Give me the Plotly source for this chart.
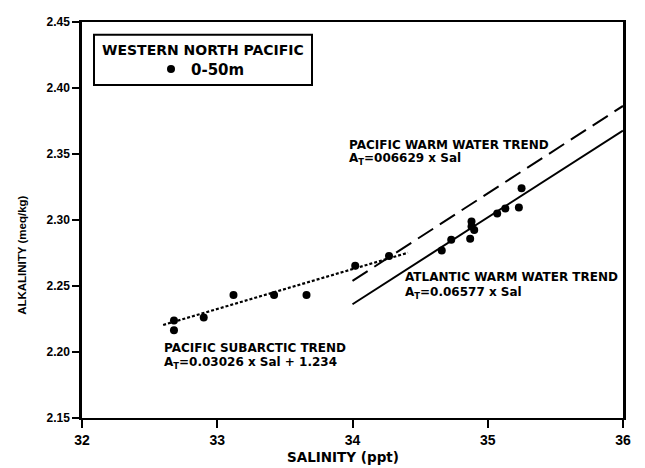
import plotly.graph_objects as go

# ---- data ----
salinity = [32.68, 32.68, 32.90, 33.12, 33.42, 33.66, 34.02, 34.27, 34.66, 34.73,
            34.87, 34.88, 34.88, 34.90, 35.07, 35.13, 35.23, 35.25]
alkalinity = [2.2239, 2.2164, 2.2261, 2.2432, 2.2432, 2.2432, 2.2653, 2.2727, 2.2769, 2.2851,
              2.2858, 2.2988, 2.2951, 2.2925, 2.3049, 2.3087, 2.3094, 2.3241]

subarctic_x = [32.60, 34.41]
subarctic_y = [2.2205, 2.2752]
pacific_warm_x = [34.0, 36.0]
pacific_warm_y = [2.2539, 2.3864]
atlantic_x = [34.0, 36.0]
atlantic_y = [2.2362, 2.3677]

x_ticks = [32, 33, 34, 35, 36]
y_ticks = [2.15, 2.20, 2.25, 2.30, 2.35, 2.40, 2.45]
y_tick_text = ["2.15", "2.20", "2.25", "2.30", "2.35", "2.40", "2.45"]

# page body has an 8px margin; size figure so the plot lands where the reference has it
OFF = 8
W, H = 637, 460
L, R, T, B = 74, 22, 7, 50
PW, PH = W - L - R, H - T - B


def px(xs):
    return (xs - OFF - L) / PW


def py(ys):
    return (OFF + H - B - ys) / PH


BOLD = "DejaVu Sans"
ARIAL = "Liberation Sans"

fig = go.Figure()
fig.add_trace(go.Scatter(x=subarctic_x, y=subarctic_y, mode="lines",
                         line=dict(color="black", width=2.2, dash="3px,2px"),
                         showlegend=False, hoverinfo="skip"))
fig.add_trace(go.Scatter(x=pacific_warm_x, y=pacific_warm_y, mode="lines",
                         line=dict(color="black", width=2, dash="18px,8px"),
                         showlegend=False, hoverinfo="skip"))
fig.add_trace(go.Scatter(x=atlantic_x, y=atlantic_y, mode="lines",
                         line=dict(color="black", width=2),
                         showlegend=False, hoverinfo="skip"))
fig.add_trace(go.Scatter(x=salinity, y=alkalinity, mode="markers", name="0-50m",
                         marker=dict(color="black", size=8)))

ann = []


def text(xs, ys, s, size=12, family=BOLD, anchor="left", angle=0):
    ann.append(dict(x=px(xs), y=py(ys), xref="paper", yref="paper", text=s,
                    showarrow=False, xanchor=anchor, yanchor="middle", textangle=angle,
                    font=dict(family=family, size=size, color="black", weight="bold")))


text(347, 140, "PACIFIC WARM WATER TREND")
text(347, 154, "A<sub>T</sub>=006629 x Sal")
text(403, 275, "ATLANTIC WARM WATER TREND")
text(403, 291, "A<sub>T</sub>=0.06577 x Sal")
text(162, 347, "PACIFIC SUBARCTIC TREND")
text(162, 362, "A<sub>T</sub>=0.03026 x Sal + 1.234")
text(203, 43, "WESTERN NORTH PACIFIC", size=14, anchor="center")
text(343, 458, "SALINITY (ppt)", size=13.5, anchor="center")
text(22, 253, "ALKALINITY (meq/kg)", size=11.5, family=ARIAL, anchor="center", angle=-90)

fig.update_layout(
    width=W, height=H,
    margin=dict(l=L, r=R, t=T, b=B, pad=0),
    paper_bgcolor="white", plot_bgcolor="white",
    font=dict(family=ARIAL, size=13, color="black"),
    annotations=ann,
    shapes=[dict(type="rect", xref="paper", yref="paper",
                 x0=px(94), x1=px(312), y0=py(28), y1=py(79),
                 line=dict(color="black", width=2), fillcolor="rgba(0,0,0,0)")],
    showlegend=True,
    legend=dict(x=px(151), y=py(63), xanchor="left", yanchor="middle",
                bgcolor="rgba(0,0,0,0)", borderwidth=0,
                font=dict(family=BOLD, size=15, color="black", weight="bold"),
                itemwidth=30),
    xaxis=dict(range=[32, 36], tickvals=x_ticks, ticks="outside", ticklen=8, tickwidth=2,
               tickcolor="black", showline=True, linewidth=2, linecolor="black", mirror=True,
               showgrid=False, zeroline=False,
               tickfont=dict(family=ARIAL, size=14, color="black", weight="bold")),
    yaxis=dict(range=[2.15, 2.45], tickvals=y_ticks, ticktext=y_tick_text,
               ticks="outside", ticklen=7, tickwidth=2, tickcolor="black",
               showline=True, linewidth=2.5, linecolor="black", mirror=True,
               showgrid=False, zeroline=False,
               tickfont=dict(family=ARIAL, size=12, color="black", weight="bold")),
)

fig.write_html("out.html")
